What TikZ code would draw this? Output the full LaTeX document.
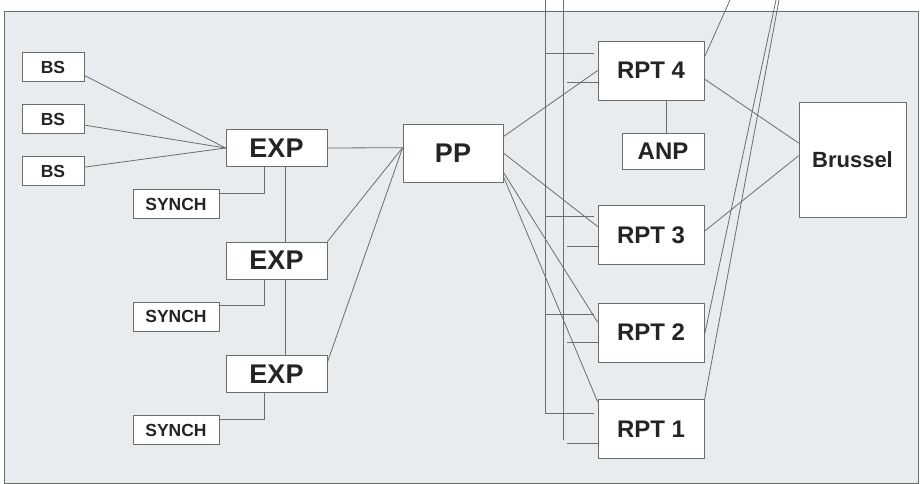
\documentclass[tikz,border=0pt]{standalone}
\usepackage{fontspec}
\setmainfont{Liberation Sans}
\usetikzlibrary{calc,positioning}
\definecolor{paper}{RGB}{233,236,238}
\definecolor{wire}{RGB}{104,110,108}
\definecolor{ink}{RGB}{36,36,36}
\newcommand{\bigfont}{\fontsize{27}{30}\selectfont\bfseries}
\newcommand{\midfont}{\fontsize{24}{28}\selectfont\bfseries}
\newcommand{\brufont}{\fontsize{22}{26}\selectfont\bfseries}
\newcommand{\smallfont}{\fontsize{17.5}{20}\selectfont\bfseries}
\tikzstyle{unit}=[%
	draw=wire,
	fill=white,
	rectangle,
	line width=0.8pt,
	inner sep=0pt,
	text=ink,
	]
\tikzstyle{bsunit}=[unit, font=\smallfont, minimum width=62pt, minimum height=29pt]
\tikzstyle{synchunit}=[unit, font=\smallfont, minimum width=86pt, minimum height=29pt]
\tikzstyle{expunit}=[unit, font=\bigfont, minimum width=101pt, minimum height=37pt]
\tikzstyle{rptunit}=[unit, font=\midfont, minimum width=106pt, minimum height=59pt]
\tikzstyle{wireline}=[draw=wire, line width=0.8pt]

\begin{document}
\begin{tikzpicture}[x=1pt,y=-1pt]%
          \useasboundingbox (0,0) rectangle (920,484);
          \draw[wireline, fill=paper] (4,11) rectangle (918,483);

          % busses and free ends at the top
          \coordinate (bus1) at (545,0);
          \coordinate (bus2) at (563,0);
          \coordinate (top4) at (730,0);
          \coordinate (top2) at (776,0);
          \coordinate (top1) at (779,0);
          \draw[wireline] (bus1) -- (bus1 |- 0,413);
          \draw[wireline] (bus2) -- (bus2 |- 0,440);

          \foreach \i/\y in {1/67,2/119,3/171}
            \node[bsunit] (bs\i) at (53,\y) {BS};
          \foreach \i/\y in {1/148,2/260.5,3/374} {
            \node[expunit] (exp\i) at (276.5,\y) {EXP};
            \node[synchunit] (synch\i) at (176,\y+56) {SYNCH};
          }
          \node[unit, font=\bigfont, minimum width=100pt, minimum height=58pt] (pp) at (453,153) {PP};
          \foreach \i/\y in {4/70.5,3/235,2/332.5,1/429}
            \node[rptunit] (rpt\i) at (651,\y) {RPT \i};
          \node[unit, font=\midfont, minimum width=82pt, minimum height=36pt] (anp) at (663,151) {ANP};
          \node[unit, font=\brufont, minimum width=107pt, minimum height=115pt] (brussel) at (852.5,159.5) {Brussel};

          \draw[wireline] (bs1.-15) -- (exp1.west);
          \draw[wireline] (bs2.-11) -- (exp1.west);
          \draw[wireline] (bs3.7) -- (exp1.west);
          \draw[wireline] (exp1.east) -- (pp.174);
          \draw[wireline] (exp2.north east) -- (pp.174);
          \draw[wireline] (exp3.13) -- (pp.174);
          \draw[wireline] ([xshift=8.5pt]exp1.south) -- ([xshift=8.5pt]exp2.north);
          \draw[wireline] ([xshift=8.5pt]exp2.south) -- ([xshift=8.5pt]exp3.north);
          \foreach \i in {1,2,3}
            \draw[wireline] ([xshift=-12.5pt]exp\i.south) |- ([yshift=-4pt]synch\i.north east);

          \draw[wireline] (pp.18) -- (rpt4.west);
          \draw[wireline] (pp.east) -- (rpt3.171);
          \draw[wireline] (pp.-21) -- (rpt2.169);
          \draw[wireline] (pp.-25) -- (rpt1.153);
          \foreach \i/\a/\b in {4/53/82,3/216/246,2/314/342,1/413/443} {
            \draw[wireline, shorten >=4pt] (bus1 |- 0,\a) -- (rpt\i.west |- 0,\a);
            \draw[wireline, shorten <=4pt] (bus2 |- 0,\b) -- (rpt\i.west |- 0,\b);
          }

          \draw[wireline] ([xshift=3pt]anp.north) -- ([xshift=3pt]anp.north |- rpt4.south);
          \draw[wireline] (rpt4.14) -- (top4);
          \draw[wireline] (rpt2.-3) -- (top2);
          \draw[wireline] (rpt1.28) -- (top1);
          \draw[wireline] (rpt4.-9) -- (brussel.163);
          \draw[wireline] (rpt3.4) -- (brussel.176);
        \end{tikzpicture}
\end{document}
